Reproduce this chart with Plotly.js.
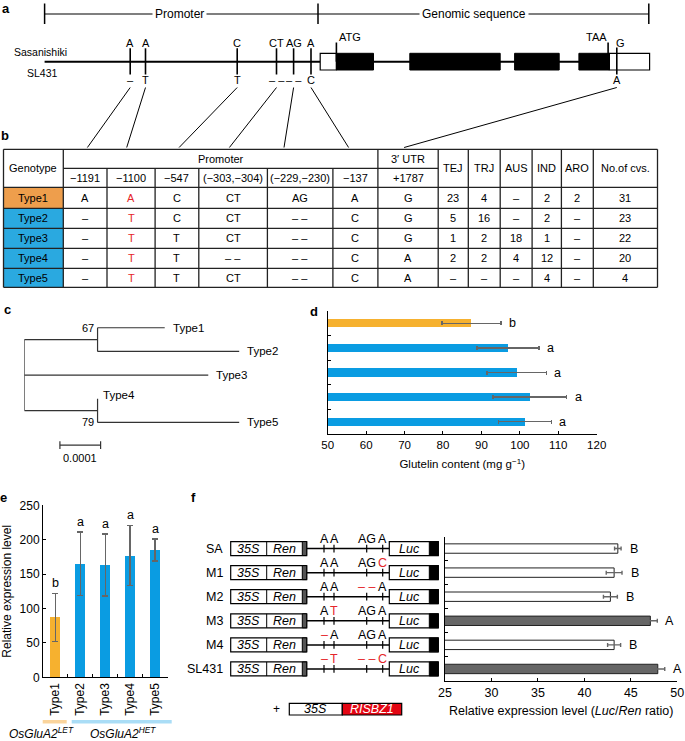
<!DOCTYPE html>
<html><head><meta charset="utf-8">
<script src="https://cdn.plot.ly/plotly-3.0.1.min.js"></script>
<style>body{margin:0;background:#fff;}#chart{width:685px;height:741px;}</style>
</head><body><div id="chart"></div>
<script>
// ---------------- DATA ----------------
const genotypes = ['Type1','Type2','Type3','Type4','Type5'];
const haploGroup = ['LET','HET','HET','HET','HET'];
// panel d
const gluMean = [87.4, 96.9, 99.2, 102.6, 101.3];
const gluErr  = [7.7, 8.1, 7.7, 9.6, 6.9];
const gluLetters = ['b','a','a','a','a'];
// panel e
const exprMean = [87, 165, 163, 177, 185];
const exprErr  = [35, 46, 45, 44, 16];
const exprLetters = ['b','a','a','a','a'];
// panel f
const constructs = ['SA','M1','M2','M3','M4','SL431'];
const lucMean = [43.6, 43.2, 42.8, 47.1, 43.2, 47.9];
const lucErr  = [0.35, 0.85, 0.75, 0.75, 0.7, 0.75];
const lucLetters = ['B','B','B','A','B','A'];
const constructAlleles = [
  ['A','A','AG','A'],
  ['A','A','AG','C'],
  ['A','A','– –','A'],
  ['A','T','AG','A'],
  ['–','A','AG','A'],
  ['–','T','– –','C']
];
// panel a
const refAlleles = ['A','A','C','CT','AG','A'];
const altAlleles = ['–','T','T','– –','– –','C'];
// panel b
const snpHeaders = ['−1191','−1100','−547','(−303,−304)','(−229,−230)','−137','+1787'];
const alleleTable = [
  ['A','A','C','CT','AG','A','G'],
  ['–','T','C','CT','– –','C','G'],
  ['–','T','T','CT','– –','C','G'],
  ['–','T','T','– –','– –','C','A'],
  ['–','T','T','CT','– –','C','A']
];
const subpops = ['TEJ','TRJ','AUS','IND','ARO'];
const subpopCounts = [
  [23, 4, '–', 2, 2],
  [5, 16, '–', 2, '–'],
  [1, 2, 18, 1, '–'],
  [2, 2, 4, 12, '–'],
  ['–','–','–', 4, '–']
];
const totalCvs = [31, 23, 22, 20, 4];
// panel c (tree, branch lengths)
const internalLen = [0.00018, 0.00018];          // node(Type1,Type2), node(Type4,Type5)
const tipLen = [0.000165, 0.000348, 0.000452, 0, 0.000348];
const bootstrap = [67, 79];
const scaleBarLen = 0.0001;

// ---------------- HELPERS ----------------
const W = 685, H = 741;
const X = p => p / W, Y = p => 1 - p / H;
const FONT = 'Liberation Sans, Arial, Helvetica, sans-serif';
const ORANGE = '#F6B12F', BLUE = '#0A9CE2';
const T_ORANGE = '#EE9E4C', T_BLUE = '#2AA9E0';
const RED = '#E5262B';
const groupColor = g => g === 'LET' ? ORANGE : BLUE;

const shapes = [], annotations = [];
function line(x0,y0,x1,y1,w=1,c='#000'){
  shapes.push({type:'line',xref:'paper',yref:'paper',x0:X(x0),y0:Y(y0),x1:X(x1),y1:Y(y1),line:{color:c,width:w}});
}
function rect(x0,y0,x1,y1,fill,lc='#000',lw=1){
  shapes.push({type:'rect',xref:'paper',yref:'paper',x0:X(x0),y0:Y(y0),x1:X(x1),y1:Y(y1),fillcolor:fill,line:{color:lc,width:lw}});
}
function txt(x,y,text,size=11,opt={}){
  const a = {xref:'paper',yref:'paper',x:X(x),y:Y(y),text:text,showarrow:false,
    font:{family:FONT,size:size,color:opt.color||'#000'},xanchor:opt.xanchor||'center',yanchor:opt.yanchor||'middle',borderpad:0};
  if (opt.bgcolor) { a.bgcolor = opt.bgcolor; a.borderpad = 2; }
  annotations.push(a);
}

// ---------------- PANEL LABELS ----------------
txt(1,0.5,'<b>a</b>',13,{xanchor:'left',yanchor:'top'});
[['b',5,135],['c',8,309],['d',314,311],['e',4,497],['f',193,497]].forEach(p=>{
  txt(p[1],p[2],'<b>'+p[0]+'</b>',13);
});

// ---------------- PANEL A ----------------
line(44.6,14,648.8,14,1.2);
[44.6,318,648.8].forEach(x=>line(x,3.5,x,24,1.5));
txt(179,14,'Promoter',12,{bgcolor:'#fff'});
txt(474,14,'Genomic sequence',12,{bgcolor:'#fff'});
txt(13,51.5,'Sasanishiki',10.5,{xanchor:'left'});
txt(26,73,'SL431',10.5,{xanchor:'left'});
line(44.6,61.7,320.2,61.7,2);
const snpX = [130.2,145.5,237.2,276.5,293.6,311];
snpX.forEach((x,i)=>{
  line(x,48.3,x,74.5,1.6);
  txt(x,43,refAlleles[i],11);
  txt(x,80.5,altAlleles[i],11);
});
// gene structure
const exons = [[336.4,373.5],[409.8,500.2],[514.6,559.2],[578.9,609.4]];
line(336.4,61.7,609.4,61.7,2);
rect(320.2,53.3,336.4,70,'#fff','#000',1.2);
rect(609.4,53.3,649.6,70,'#fff','#000',1.2);
exons.forEach(e=>rect(e[0],53.3,e[1],70,'#000','#000',1));
line(336.4,42.5,336.4,61.7,1.6);
txt(338,37.5,'ATG',11,{xanchor:'left'});
line(608.1,42.5,608.1,61.7,1.6);
txt(596,37.5,'TAA',11);
line(616.8,47.5,616.8,74.5,1.6);
txt(620,43,'G',11);
txt(617,80.5,'A',11);
// connectors a -> b
const connEnd = [87.4,126.7,179.1,229.4,284,348.6,404.1];
snpX.concat([616.8]).forEach((x,i)=>line(x,87.5,connEnd[i],147.5,1));

// ---------------- PANEL B (table) ----------------
const cx = [3.5,63.3,107,155.1,198.8,267.4,332.9,377.9,438.2,468.3,500.2,532.1,561.4,593.3,657.5];
const ry = [149.3,168.3,187.3,208.3,228.3,248.3,268.3,287.3];
genotypes.forEach((g,i)=>rect(cx[0],ry[i+2],cx[1],ry[i+3],haploGroup[i]==='LET'?T_ORANGE:T_BLUE,'rgba(0,0,0,0)',0));
const TW = 1.3, TC = '#222';
[0,2,3,4,5,6,7].forEach(r=>line(cx[0],ry[r],cx[14],ry[r],TW,TC));
line(cx[1],ry[1],cx[8],ry[1],TW,TC);
cx.forEach((x,k)=>{
  if (k>=2 && k<=6) line(x,ry[1],x,ry[7],TW,TC);
  else line(x,ry[0],x,ry[7],TW,TC);
});
const TF = 11;
const cmid = k => (cx[k]+cx[k+1])/2;
txt(cmid(0),(ry[0]+ry[2])/2,'Genotype',TF);
txt((cx[1]+cx[7])/2,(ry[0]+ry[1])/2,'Promoter',TF);
txt(cmid(7),(ry[0]+ry[1])/2,'3′ UTR',TF);
snpHeaders.forEach((h,k)=>txt(cmid(k+1),(ry[1]+ry[2])/2,h,TF));
subpops.forEach((s,k)=>txt(cmid(k+8),(ry[0]+ry[2])/2,s,TF));
txt(cmid(13),(ry[0]+ry[2])/2,'No.of cvs.',TF);
genotypes.forEach((g,i)=>{
  const yc = (ry[i+2]+ry[i+3])/2;
  txt(cmid(0),yc,g,TF);
  alleleTable[i].forEach((a,k)=>txt(cmid(k+1),yc,a,TF,{color:k===1?RED:'#000'}));
  subpopCounts[i].forEach((c,k)=>txt(cmid(k+8),yc,String(c),TF));
  txt(cmid(13),yc,String(totalCvs[i]),TF);
});

// ---------------- PANEL C (tree) ----------------
const n1 = internalLen[0], n2 = internalLen[1];
const tipX = [n1+tipLen[0], n1+tipLen[1], tipLen[2], n2+tipLen[3], n2+tipLen[4]];
const tipY = [1,2,3,4,5];
const ny1 = (tipY[0]+tipY[1])/2, ny2 = (tipY[3]+tipY[4])/2;
const tx = [0,0,null, 0,n1,null, n1,n1,null, n1,tipX[0],null, n1,tipX[1],null, 0,tipX[2],null, 0,n2,null, n2,n2,null, n2,tipX[4]];
const ty = [ny1,ny2,null, ny1,ny1,null, tipY[0],tipY[1],null, tipY[0],tipY[0],null, tipY[1],tipY[1],null, tipY[2],tipY[2],null, ny2,ny2,null, tipY[3],tipY[4],null, tipY[4],tipY[4]];
const sb0 = 0.0000875, sbY = 5.96;
const sbx = [sb0,sb0+scaleBarLen,null, sb0,sb0,null, sb0+scaleBarLen,sb0+scaleBarLen];
const sby = [sbY,sbY,null, sbY-0.16,sbY+0.16,null, sbY-0.16,sbY+0.16];
genotypes.forEach((g,i)=>{
  annotations.push({xref:'x4',yref:'y4',x:tipX[i],y:tipY[i],text:g,showarrow:false,xanchor:'left',yanchor:i===3?'bottom':'middle',
    xshift:i===3?3:6,yshift:i===3?-4:0,font:{family:FONT,size:11.5,color:'#000'}});
});
annotations.push({xref:'x4',yref:'y4',x:n1,y:tipY[0],text:String(bootstrap[0]),showarrow:false,xanchor:'right',yanchor:'middle',xshift:-2,font:{family:FONT,size:11,color:'#000'}});
annotations.push({xref:'x4',yref:'y4',x:n2,y:tipY[4],text:String(bootstrap[1]),showarrow:false,xanchor:'right',yanchor:'middle',xshift:-2,font:{family:FONT,size:11,color:'#000'}});
annotations.push({xref:'x4',yref:'y4',x:sb0+scaleBarLen/2,y:sbY,text:String(scaleBarLen.toFixed(4)),showarrow:false,xanchor:'center',yanchor:'top',yshift:-5,font:{family:FONT,size:11,color:'#000'}});

// ---------------- PANEL D letters ----------------
genotypes.forEach((g,i)=>annotations.push({xref:'x',yref:'y',x:gluMean[i]+gluErr[i],y:g,text:gluLetters[i],showarrow:false,
  xanchor:'left',yanchor:'middle',xshift:6,font:{family:FONT,size:12.5,color:'#000'}}));

// ---------------- PANEL E letters & group bars ----------------
genotypes.forEach((g,i)=>annotations.push({xref:'x2',yref:'y2',x:g,y:exprMean[i]+exprErr[i],text:exprLetters[i],showarrow:false,
  xanchor:'center',yanchor:'bottom',yshift:1,font:{family:FONT,size:12.5,color:'#000'}}));
rect(42.7,720,66.7,723.5,'#FAD49C','rgba(0,0,0,0)',0);
rect(71.7,720,171.7,723.5,'#AADDF6','rgba(0,0,0,0)',0);
txt(41.5,733,'<i>OsGluA2</i><sup><i>LET</i></sup>',12);
txt(123,733,'<i>OsGluA2</i><sup><i>HET</i></sup>',12);

// ---------------- PANEL F constructs ----------------
const siteX = [324,334,366.7,382.7];
constructs.forEach((c,i)=>{
  const S = (o)=>shapes.push(Object.assign({xref:'paper',yref:'y3'},o));
  S({type:'line',x0:X(306.7),x1:X(389.3),y0:i,y1:i,line:{color:'#000',width:1.5}});
  S({type:'rect',x0:X(230.7),x1:X(306.7),y0:i-0.29,y1:i+0.29,fillcolor:'#fff',line:{color:'#000',width:1.2}});
  S({type:'line',x0:X(266.7),x1:X(266.7),y0:i-0.29,y1:i+0.29,line:{color:'#000',width:1}});
  S({type:'rect',x0:X(302.3),x1:X(306.7),y0:i-0.29,y1:i+0.29,fillcolor:'#555',line:{color:'#000',width:1}});
  S({type:'rect',x0:X(389.3),x1:X(438.3),y0:i-0.29,y1:i+0.29,fillcolor:'#fff',line:{color:'#000',width:1.2}});
  S({type:'rect',x0:X(429.3),x1:X(438.3),y0:i-0.29,y1:i+0.29,fillcolor:'#000',line:{color:'#000',width:1}});
  siteX.forEach(sx=>S({type:'line',x0:X(sx),x1:X(sx),y0:i-0.16,y1:i+0.16,line:{color:'#000',width:1.2}}));
  const A = (x,text,opt)=>annotations.push(Object.assign({xref:'paper',yref:'y3',x:X(x),y:c,text:text,showarrow:false,xanchor:'center',yanchor:'middle',
    font:{family:FONT,size:12.5,color:(opt&&opt.color)||'#000'}},opt&&opt.extra||{}));
  A(225,c,{extra:{xanchor:'right'}});
  A(248.7,'<i>35S</i>');
  A(284.5,'<i>Ren</i>');
  A(409.3,'<i>Luc</i>');
  constructAlleles[i].forEach((al,k)=>{
    A(siteX[k],al,{color: al===constructAlleles[0][k]?'#000':RED, extra:{yshift:10}});
  });
  annotations.push({xref:'x3',yref:'y3',x:lucMean[i]+lucErr[i],y:c,text:lucLetters[i],showarrow:false,xanchor:'center',yanchor:'middle',
    xshift:12.5,font:{family:FONT,size:12.5,color:'#000'}});
});
txt(276,709.3,'+',12);
rect(289.3,703.3,342.3,715,'#fff','#000',1.2);
rect(342.3,703.3,401.7,715,'#E30613','#000',1.2);
txt(315.8,709.3,'<i>35S</i>',12.5);
txt(372,709.3,'<i>RISBZ1</i>',12.5,{color:'#fff'});

// ---------------- TRACES ----------------
const errStyle = {color:'#666',thickness:1.4,width:2};
const traces = [
  {type:'bar',orientation:'h',x:gluMean,y:genotypes,xaxis:'x',yaxis:'y',width:0.34,
   marker:{color:haploGroup.map(groupColor),line:{width:0}},
   error_x:Object.assign({type:'data',array:gluErr},errStyle),hoverinfo:'x+y',showlegend:false},
  {type:'bar',x:genotypes,y:exprMean,xaxis:'x2',yaxis:'y2',width:0.4,
   marker:{color:haploGroup.map(groupColor),line:{width:0}},
   error_y:Object.assign({type:'data',array:exprErr},errStyle,{width:3}),hoverinfo:'x+y',showlegend:false},
  {type:'bar',orientation:'h',x:lucMean,y:constructs,xaxis:'x3',yaxis:'y3',width:0.39,
   marker:{color:lucLetters.map(l=>l==='A'?'#666666':'#ffffff'),line:{color:'#222',width:1}},
   error_x:Object.assign({type:'data',array:lucErr},errStyle),hoverinfo:'x+y',showlegend:false},
  {type:'scatter',mode:'lines',x:tx,y:ty,xaxis:'x4',yaxis:'y4',line:{color:'#333',width:1.2},hoverinfo:'skip',showlegend:false},
  {type:'scatter',mode:'lines',x:sbx,y:sby,xaxis:'x4',yaxis:'y4',line:{color:'#333',width:1.2},hoverinfo:'skip',showlegend:false}
];

const axBase = {showline:true,linecolor:'#000',linewidth:1,showgrid:false,zeroline:false,ticks:'inside',ticklen:3,tickcolor:'#000',
  tickfont:{family:FONT,size:12,color:'#000'}};
const layout = {
  width:W,height:H,margin:{l:0,r:0,t:0,b:0},paper_bgcolor:'#fff',plot_bgcolor:'rgba(0,0,0,0)',
  font:{family:FONT,color:'#000'},showlegend:false,bargap:0,
  xaxis:Object.assign({},axBase,{domain:[X(327.7),X(596.7)],range:[50,120],tickvals:[50,60,70,80,90,100,110,120],anchor:'y',
    tickfont:{family:FONT,size:11.5,color:'#000'},
    title:{text:'Glutelin content (mg g<sup>−1</sup>)',font:{family:FONT,size:11.5,color:'#000'},standoff:10}}),
  yaxis:Object.assign({},axBase,{domain:[Y(434),Y(311)],type:'category',categoryarray:genotypes,range:[4.5,-0.5],
    tickson:'boundaries',showticklabels:false,anchor:'x'}),
  xaxis2:Object.assign({},axBase,{domain:[X(43),X(167.5)],type:'category',categoryarray:genotypes,range:[-0.5,4.5],
    tickson:'boundaries',tickangle:-90,anchor:'y2'}),
  yaxis2:Object.assign({},axBase,{domain:[Y(677.3),Y(505.3)],range:[0,250],tickvals:[0,50,100,150,200,250],anchor:'x2',
    title:{text:'Relative expression level',font:{family:FONT,size:12,color:'#000'},standoff:6}}),
  xaxis3:Object.assign({},axBase,{domain:[X(445),X(677.3)],range:[25,50],tickvals:[25,30,35,40,45,50],anchor:'y3',
    tickfont:{family:FONT,size:12.5,color:'#000'},
    title:{text:'Relative expression level (<i>Luc</i>/<i>Ren</i> ratio)',font:{family:FONT,size:12.5,color:'#000'},standoff:7}}),
  yaxis3:Object.assign({},axBase,{domain:[Y(681),Y(536.5)],type:'category',categoryarray:constructs,range:[5.5,-0.5],
    tickson:'boundaries',showticklabels:false,anchor:'x3'}),
  xaxis4:{domain:[X(24.3),X(268.5)],range:[0,0.0006],visible:false,anchor:'y4'},
  yaxis4:{domain:[Y(460),Y(315.9)],range:[6.59,0.5],visible:false,anchor:'x4'},
  shapes:shapes,annotations:annotations
};
Plotly.newPlot('chart',traces,layout,{displayModeBar:false,staticPlot:true});
</script></body></html>
